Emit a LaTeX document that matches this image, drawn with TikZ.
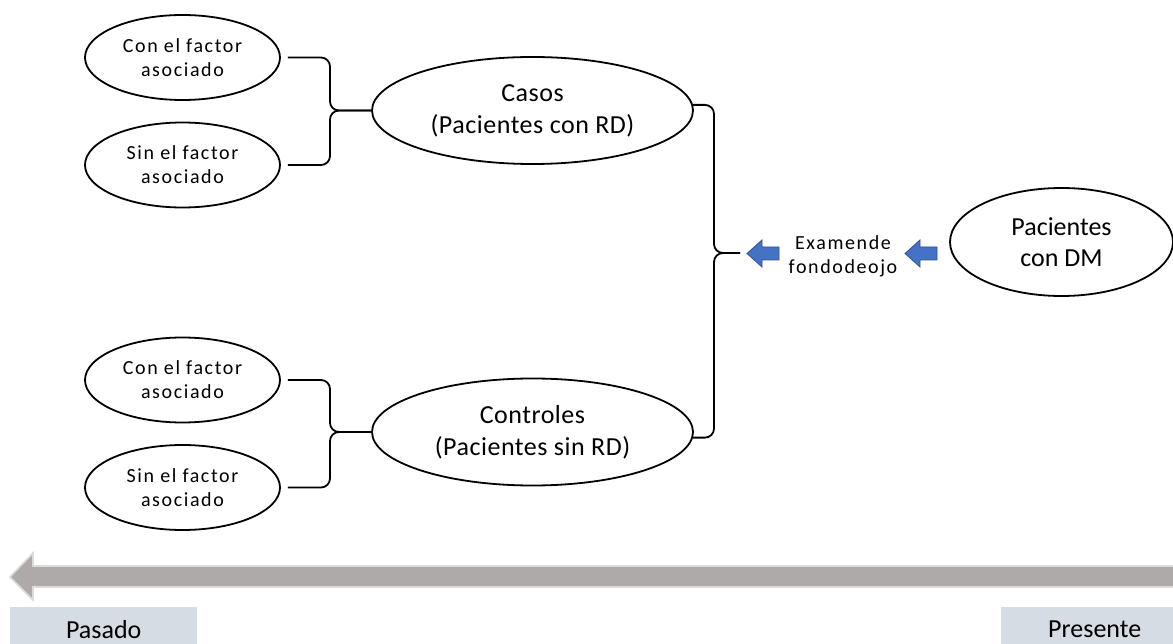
\documentclass[tikz,border=0pt]{standalone}
\usepackage{fontspec}
\setmainfont{Carlito}
\newfontfamily\spacedfont[LetterSpace=8]{Carlito}
\newfontfamily\bigfont[LetterSpace=2]{Carlito}
\usetikzlibrary{shapes.geometric,calc}
\definecolor{boxfill}{HTML}{D6DCE4}
\definecolor{timegray}{HTML}{AEAAAA}
\definecolor{timeedge}{HTML}{DCDADA}
\definecolor{officeblue}{HTML}{4472C4}
\definecolor{blueedge}{HTML}{2F528F}
\tikzset{
  oval/.style={ellipse, draw=black, line width=1.8pt, inner sep=0pt, align=center},
  smalloval/.style={oval, minimum width=195, minimum height=85,
     font=\spacedfont\fontsize{20}{24}\selectfont},
  bigoval/.style={oval, minimum width=321, minimum height=107,
     font=\bigfont\fontsize{26}{32}\selectfont},
  brace/.style={draw=black, line width=1.8pt, rounded corners=9pt},
  bluearrow/.style={fill=officeblue, draw=blueedge, line width=0.8pt},
  timebox/.style={fill=boxfill, draw=none, inner sep=0pt, minimum width=187, minimum height=44,
     anchor=north west, text depth=0pt, font=\fontsize{26}{32}\selectfont},
  smalltext/.style={align=center, inner sep=0pt, font=\spacedfont\fontsize{20}{24}\selectfont}
}
\begin{document}
\begin{tikzpicture}[x=1pt, y=-1pt]
\useasboundingbox (0,0) rectangle (1173,644);
\clip (0,0) rectangle (1173,644);

% ellipses
\node[smalloval] (c1) at (182.5,57.5) {Con el factor\\asociado};
\node[smalloval] (s1) at (182.5,165) {Sin el factor\\asociado};
\node[smalloval] (c2) at (182.5,380) {Con el factor\\asociado};
\node[smalloval] (s2) at (182.5,487.5) {Sin el factor\\asociado};
\node[bigoval] (casos) at (532.5,110.5) {Casos\\(Pacientes con RD)};
\node[bigoval] (ctrl) at (532.5,432) {Controles\\(Pacientes sin RD)};
\node[oval, minimum width=223, minimum height=108,
      font=\fontsize{26}{31}\selectfont] (dm) at (1061.5,242) {Pacientes\\con DM};

% text between arrows
\node[smalltext] (exam) at (843,256) {Examende\\fondodeojo};

% brace helpers
\coordinate (lx) at (330,0);
\coordinate (rx) at (714,0);
\coordinate (btip) at (740,253);

% left braces
\draw[brace] ([xshift=7pt]c1.east) -- (lx |- c1.east) -- (lx |- casos.west) -- (casos.west);
\draw[brace] ([xshift=7pt]s1.east) -- (lx |- s1.east) -- (lx |- casos.west) -- (casos.west);
\draw[brace] ([xshift=7pt]c2.east) -- (lx |- c2.east) -- (lx |- ctrl.west) -- (ctrl.west);
\draw[brace] ([xshift=7pt]s2.east) -- (lx |- s2.east) -- (lx |- ctrl.west) -- (ctrl.west);

% right brace
\draw[brace] (casos.2.7) -- (rx |- casos.2.7) -- (rx |- btip) -- (btip);
\draw[brace] (ctrl.-2.7) -- (rx |- ctrl.-2.7) -- (rx |- btip) -- (btip);

% blue block arrows
\coordinate (a1) at (747,253.5);
\coordinate (a2) at (905,253.5);
\draw[bluearrow] (a1) -- ++(15,-13.5) -- ++(0,7) -- ++(17,0) -- ++(0,13) -- ++(-17,0) -- ++(0,7) -- cycle;
\draw[bluearrow] (a2) -- ++(15,-13.5) -- ++(0,7) -- ++(17,0) -- ++(0,13) -- ++(-17,0) -- ++(0,7) -- cycle;

% time arrow
\fill[timegray] (1180,566) -- (33,566) -- (33,553) -- (10,577) -- (33,600) -- (33,587) -- (1180,587) -- cycle;
\draw[timeedge, line width=1.6pt, line join=miter] (1180,566) -- (33,566) -- (33,553) -- (10,577) -- (33,600) -- (33,587) -- (1180,587);

% time labels
\node[timebox] (pasado) at (10,607) {Pasado};
\node[timebox] (presente) at (1001,607) {Presente};
\end{tikzpicture}
\end{document}
